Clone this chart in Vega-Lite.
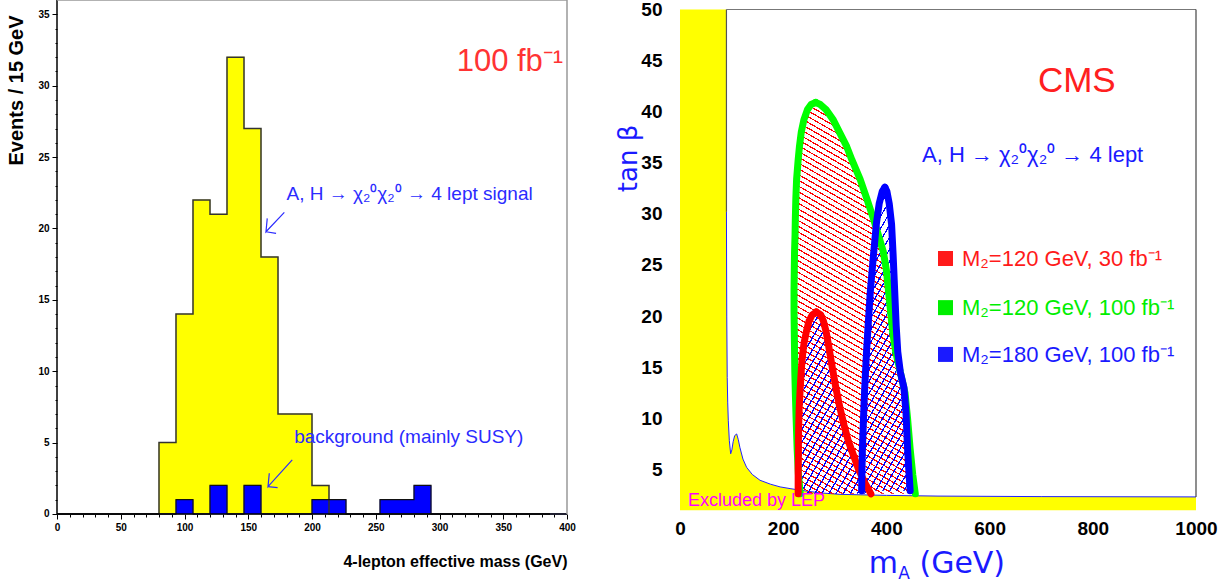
{
  "$schema": "https://vega.github.io/schema/vega-lite/v6.json",
  "width": 1231,
  "height": 584,
  "autosize": {"type": "none"},
  "padding": 0,
  "background": "white",
  "config": {"view": {"stroke": null}, "axis": {"grid": false}},
  "datasets": {
    "hist": [
      {"lo": 0, "hi": 13.333, "sig": 0, "bkg": 0},
      {"lo": 13.333, "hi": 26.667, "sig": 0, "bkg": 0},
      {"lo": 26.667, "hi": 40, "sig": 0, "bkg": 0},
      {"lo": 40, "hi": 53.333, "sig": 0, "bkg": 0},
      {"lo": 53.333, "hi": 66.667, "sig": 0, "bkg": 0},
      {"lo": 66.667, "hi": 80, "sig": 0, "bkg": 0},
      {"lo": 80, "hi": 93.333, "sig": 5, "bkg": 0},
      {"lo": 93.333, "hi": 106.667, "sig": 14, "bkg": 1},
      {"lo": 106.667, "hi": 120, "sig": 22, "bkg": 0},
      {"lo": 120, "hi": 133.333, "sig": 21, "bkg": 2},
      {"lo": 133.333, "hi": 146.667, "sig": 32, "bkg": 0},
      {"lo": 146.667, "hi": 160, "sig": 27, "bkg": 2},
      {"lo": 160, "hi": 173.333, "sig": 18, "bkg": 0},
      {"lo": 173.333, "hi": 186.667, "sig": 7, "bkg": 0},
      {"lo": 186.667, "hi": 200, "sig": 7, "bkg": 0},
      {"lo": 200, "hi": 213.333, "sig": 2, "bkg": 1},
      {"lo": 213.333, "hi": 226.667, "sig": 0, "bkg": 1},
      {"lo": 226.667, "hi": 240, "sig": 0, "bkg": 0},
      {"lo": 240, "hi": 253.333, "sig": 0, "bkg": 0},
      {"lo": 253.333, "hi": 266.667, "sig": 0, "bkg": 1},
      {"lo": 266.667, "hi": 280, "sig": 0, "bkg": 1},
      {"lo": 280, "hi": 293.333, "sig": 0, "bkg": 2},
      {"lo": 293.333, "hi": 306.667, "sig": 0, "bkg": 0},
      {"lo": 306.667, "hi": 320, "sig": 0, "bkg": 0},
      {"lo": 320, "hi": 333.333, "sig": 0, "bkg": 0},
      {"lo": 333.333, "hi": 346.667, "sig": 0, "bkg": 0},
      {"lo": 346.667, "hi": 360, "sig": 0, "bkg": 0},
      {"lo": 360, "hi": 373.333, "sig": 0, "bkg": 0},
      {"lo": 373.333, "hi": 386.667, "sig": 0, "bkg": 0},
      {"lo": 386.667, "hi": 400, "sig": 0, "bkg": 0}
    ],
    "lep": [
      {"m": 0, "t": 50}, {"m": 89.9, "t": 50}, {"m": 90, "t": 30.2}, {"m": 90.6, "t": 20},
      {"m": 91.5, "t": 14}, {"m": 92.5, "t": 11.5}, {"m": 93.6, "t": 9.75}, {"m": 95.6, "t": 7.8},
      {"m": 98.2, "t": 6.52}, {"m": 100.5, "t": 6.9}, {"m": 103, "t": 7.7}, {"m": 106, "t": 8.3},
      {"m": 109.8, "t": 8.46}, {"m": 113, "t": 7.9}, {"m": 116, "t": 7.16}, {"m": 122, "t": 6.0},
      {"m": 129, "t": 5.2}, {"m": 140, "t": 4.5}, {"m": 155, "t": 3.93}, {"m": 175, "t": 3.55},
      {"m": 194, "t": 3.28}, {"m": 215, "t": 3.1}, {"m": 232.6, "t": 2.96}, {"m": 270, "t": 2.7},
      {"m": 310, "t": 2.55}, {"m": 400, "t": 2.45}, {"m": 500, "t": 2.38}, {"m": 700, "t": 2.33},
      {"m": 1000, "t": 2.3}
    ],
    "green": [
      {"t": 2.6, "xl": 233, "xr": 456}, {"t": 4.5, "xl": 229.5, "xr": 451}, {"t": 7, "xl": 227, "xr": 446},
      {"t": 10, "xl": 225, "xr": 441}, {"t": 12.5, "xl": 223.5, "xr": 436}, {"t": 14.5, "xl": 222.5, "xr": 427},
      {"t": 16.5, "xl": 222, "xr": 418}, {"t": 18.5, "xl": 221.5, "xr": 412}, {"t": 20.5, "xl": 221, "xr": 408},
      {"t": 22.5, "xl": 221, "xr": 404}, {"t": 24.5, "xl": 221.5, "xr": 400}, {"t": 26.3, "xl": 222, "xr": 394},
      {"t": 28, "xl": 223, "xr": 384}, {"t": 29.5, "xl": 223.5, "xr": 375}, {"t": 31.5, "xl": 224.5, "xr": 362},
      {"t": 33.4, "xl": 226, "xr": 349}, {"t": 35.3, "xl": 229, "xr": 333}, {"t": 36.6, "xl": 231.5, "xr": 323},
      {"t": 38, "xl": 235, "xr": 309}, {"t": 39.2, "xl": 240, "xr": 297}, {"t": 40.2, "xl": 247, "xr": 283},
      {"t": 40.7, "xl": 254, "xr": 272}, {"t": 40.9, "xl": 263, "xr": 263}
    ],
    "red": [
      {"t": 2.6, "xl": 229, "xr": 370}, {"t": 3.8, "xl": 229, "xr": 357}, {"t": 5, "xl": 229, "xr": 346},
      {"t": 6.4, "xl": 229.5, "xr": 336}, {"t": 7.8, "xl": 229.5, "xr": 326}, {"t": 9.3, "xl": 230, "xr": 318},
      {"t": 11, "xl": 231, "xr": 310}, {"t": 13, "xl": 233, "xr": 302}, {"t": 15, "xl": 235.5, "xr": 295},
      {"t": 16.2, "xl": 237.5, "xr": 291}, {"t": 17.4, "xl": 240.5, "xr": 287}, {"t": 18.5, "xl": 245, "xr": 283},
      {"t": 19.5, "xl": 250, "xr": 278}, {"t": 20.1, "xl": 256, "xr": 273}, {"t": 20.4, "xl": 264, "xr": 264}
    ],
    "blue": [
      {"t": 2.9, "xl": 352, "xr": 446}, {"t": 4.5, "xl": 352.5, "xr": 444}, {"t": 7, "xl": 353.5, "xr": 441},
      {"t": 10.5, "xl": 356, "xr": 438}, {"t": 13, "xl": 358, "xr": 434}, {"t": 14.5, "xl": 359.5, "xr": 427},
      {"t": 16.5, "xl": 361.5, "xr": 422}, {"t": 19, "xl": 364.5, "xr": 419}, {"t": 22.5, "xl": 369, "xr": 416},
      {"t": 26, "xl": 375, "xr": 413}, {"t": 29, "xl": 380.5, "xr": 410}, {"t": 31, "xl": 386, "xr": 405.5},
      {"t": 32.2, "xl": 392, "xr": 401}, {"t": 32.6, "xl": 397, "xr": 397}
    ],
    "legend": [
      {"label": "M₂=120 GeV, 30 fb⁻¹", "key": "red", "m": 546.5, "t": 24.9, "bm": 514.5},
      {"label": "M₂=120 GeV, 100 fb⁻¹", "key": "green", "m": 546.5, "t": 20.09, "bm": 514.5},
      {"label": "M₂=180 GeV, 100 fb⁻¹", "key": "blue", "m": 546.5, "t": 15.51, "bm": 514.5}
    ]
  },
  "layer": [
    {
      "layer": [
        {
          "data": {"name": "hist"},
          "mark": {"type": "rect", "color": "#ffff00", "stroke": "#ffff00", "strokeWidth": 0.6},
          "encoding": {
            "x": {
              "field": "lo", "type": "quantitative",
              "scale": {"domain": [-44.706, 920.784], "nice": false, "zero": false},
              "axis": {
                "orient": "bottom", "offset": -70, "tickCount": 500, "format": "d",
                "values": [0,10,20,30,40,50,60,70,80,90,100,110,120,130,140,150,160,170,180,190,200,210,220,230,240,250,260,270,280,290,300,310,320,330,340,350,360,370,380,390,400],
                "domain": false, "grid": false, "tickColor": "#000", "tickWidth": 1,
                "tickSize": {"condition": {"test": "datum.value % 50 === 0", "value": 5}, "value": 3},
                "labelExpr": "datum.value % 50 === 0 ? datum.label : ''",
                "labelFont": "Liberation Sans", "labelFontSize": 10, "labelFontWeight": "bold",
                "labelColor": "#000", "labelPadding": 3, "labelOverlap": false, "labelFlush": false, "labelBound": false,
                "title": "4-lepton effective mass (GeV)", "titleFont": "Liberation Sans", "titleFontSize": 16,
                "titleFontWeight": "bold", "titleColor": "#000", "titleAlign": "right", "titleAnchor": "end",
                "titleX": 567, "titleY": 52, "titleBaseline": "alphabetic"
              }
            },
            "x2": {"field": "hi"},
            "y": {
              "field": "sig", "type": "quantitative",
              "scale": {"domain": [-4.903, 36.002], "nice": false, "zero": false},
              "axis": {
                "orient": "left", "offset": -57, "tickCount": 500, "format": "d",
                "values": [0,1,2,3,4,5,6,7,8,9,10,11,12,13,14,15,16,17,18,19,20,21,22,23,24,25,26,27,28,29,30,31,32,33,34,35],
                "domain": false, "grid": false, "tickColor": "#000", "tickWidth": 1,
                "tickSize": {"condition": {"test": "datum.value % 5 === 0", "value": 5}, "value": 2},
                "labelExpr": "datum.value % 5 === 0 ? datum.label : ''",
                "labelFont": "Liberation Sans", "labelFontSize": 10, "labelFontWeight": "bold",
                "labelColor": "#000", "labelPadding": 3, "labelOverlap": false, "labelFlush": false, "labelBound": false,
                "title": "Events / 15 GeV", "titleFont": "Liberation Sans", "titleFontSize": 20, "titleFontWeight": "bold",
                "titleColor": "#000", "titleAngle": 270, "titleAlign": "left", "titleBaseline": "middle",
                "titleX": -41, "titleY": 165
              }
            },
            "y2": {"datum": 0}
          }
        },
        {
          "data": {"name": "hist"},
          "mark": {"type": "rect", "color": "#0000ff", "stroke": "#0000ff", "strokeWidth": 0.6},
          "encoding": {
            "x": {"field": "lo", "type": "quantitative"},
            "x2": {"field": "hi"},
            "y": {"field": "bkg", "type": "quantitative"},
            "y2": {"datum": 0}
          }
        },
        {
          "data": {"name": "hist"},
          "mark": {"type": "line", "interpolate": "step-after", "color": "#333333", "strokeWidth": 1.5},
          "encoding": {
            "x": {"field": "lo", "type": "quantitative"},
            "y": {"field": "sig", "type": "quantitative"}
          }
        },
        {
          "data": {"name": "hist"},
          "mark": {"type": "line", "interpolate": "step-after", "color": "#111111", "strokeWidth": 1.2},
          "encoding": {
            "x": {"field": "lo", "type": "quantitative"},
            "y": {"field": "bkg", "type": "quantitative"}
          }
        },
        {
          "data": {"values": [{}]},
          "mark": {"type": "rule", "color": "#000000", "strokeWidth": 1.5},
          "encoding": {"x": {"datum": 0}, "x2": {"datum": 400}, "y": {"datum": 0}}
        },
        {
          "data": {"values": [{}]},
          "mark": {"type": "rule", "color": "#000000", "strokeWidth": 1.5},
          "encoding": {"x": {"datum": 0}, "y": {"datum": 0}, "y2": {"datum": 36}}
        },
        {
          "data": {"values": [{}]},
          "mark": {"type": "rule", "color": "#999999", "strokeWidth": 1.5},
          "encoding": {"x": {"datum": 0}, "x2": {"datum": 400}, "y": {"datum": 36}}
        },
        {
          "data": {"values": [{}]},
          "mark": {"type": "rule", "color": "#999999", "strokeWidth": 1.5},
          "encoding": {"x": {"datum": 400}, "y": {"datum": 0}, "y2": {"datum": 36}}
        },
        {
          "data": {"values": [
            {"seg": "s1", "i": 0, "m": 178.3, "n": 21.13}, {"seg": "s1", "i": 1, "m": 163.9, "n": 19.77}, {"seg": "s1", "i": 2, "m": 164.9, "n": 20.71},
            {"seg": "s2", "i": 0, "m": 163.9, "n": 19.77}, {"seg": "s2", "i": 1, "m": 171.8, "n": 19.66},
            {"seg": "b1", "i": 0, "m": 184.5, "n": 3.79}, {"seg": "b1", "i": 1, "m": 165.5, "n": 1.92}, {"seg": "b1", "i": 2, "m": 166.5, "n": 2.85},
            {"seg": "b2", "i": 0, "m": 165.5, "n": 1.92}, {"seg": "b2", "i": 1, "m": 173, "n": 1.85}
          ]},
          "mark": {"type": "line", "color": "#2b2bff", "strokeWidth": 1.2},
          "encoding": {
            "x": {"field": "m", "type": "quantitative"},
            "y": {"field": "n", "type": "quantitative"},
            "detail": {"field": "seg"},
            "order": {"field": "i", "type": "quantitative"}
          }
        },
        {
          "data": {"values": [{"label": "100 fb⁻¹", "m": 397, "n": 31.0}]},
          "mark": {"type": "text", "align": "right", "baseline": "alphabetic", "font": "Liberation Sans", "fontSize": 31, "color": "#ff3333"},
          "encoding": {
            "x": {"field": "m", "type": "quantitative"},
            "y": {"field": "n", "type": "quantitative"},
            "text": {"field": "label"}
          }
        },
        {
          "data": {"values": [
            {"label": "A, H → χ₂⁰χ₂⁰ → 4 lept signal", "m": 180, "n": 22.0},
            {"label": "background (mainly SUSY)", "m": 186, "n": 4.95}
          ]},
          "mark": {"type": "text", "align": "left", "baseline": "alphabetic", "font": "Liberation Sans", "fontSize": 19, "color": "#2b2bff"},
          "encoding": {
            "x": {"field": "m", "type": "quantitative"},
            "y": {"field": "n", "type": "quantitative"},
            "text": {"field": "label"}
          }
        }
      ]
    },
    {
      "layer": [
        {
          "data": {"name": "lep"},
          "mark": {"type": "area", "color": "#ffff00"},
          "encoding": {
            "x": {
              "field": "m", "type": "quantitative",
              "scale": {"domain": [-1317.83, 1067.83], "nice": false, "zero": false},
              "axis": {
                "orient": "bottom", "offset": -73.8, "values": [0, 200, 400, 600, 800, 1000], "tickCount": 100, "format": "d",
                "domain": false, "ticks": false, "grid": false,
                "labelFont": "Liberation Sans", "labelFontSize": 19, "labelFontWeight": "bold", "labelColor": "#000",
                "labelBaseline": "middle", "labelPadding": 18, "labelOverlap": false, "labelFlush": false, "labelBound": false,
                "title": null
              }
            },
            "y": {
              "field": "t", "type": "quantitative",
              "scale": {"domain": [-6.223, 50.93], "nice": false, "zero": false},
              "axis": {
                "orient": "left", "offset": -680, "values": [5, 10, 15, 20, 25, 30, 35, 40, 45, 50], "tickCount": 100, "format": "d",
                "domain": false, "ticks": false, "grid": false,
                "labelFont": "Liberation Sans", "labelFontSize": 19, "labelFontWeight": "bold", "labelColor": "#000",
                "labelPadding": 18, "labelOverlap": false, "labelFlush": false, "labelBound": false,
                "title": "tan β", "titleFont": "DejaVu Sans", "titleFontSize": 26, "titleFontWeight": "normal",
                "titleColor": "#1a1aff", "titleAngle": 270, "titleAlign": "center", "titleBaseline": "middle",
                "titleX": -52, "titleY": 158
              }
            },
            "y2": {"datum": 1}
          }
        },
        {
          "data": {"name": "lep"},
          "transform": [{"filter": "datum.m >= 90"}],
          "mark": {"type": "line", "color": "#2222ff", "strokeWidth": 1},
          "encoding": {
            "x": {"field": "m", "type": "quantitative"},
            "y": {"field": "t", "type": "quantitative"}
          }
        },
        {
          "data": {"values": [{}]},
          "mark": {"type": "rule", "color": "#777777", "strokeWidth": 1.2},
          "encoding": {"x": {"datum": 90}, "x2": {"datum": 1000}, "y": {"datum": 50}}
        },
        {
          "data": {"values": [{}]},
          "mark": {"type": "rule", "color": "#444444", "strokeWidth": 1.2},
          "encoding": {"x": {"datum": 1000}, "y": {"datum": 2.3}, "y2": {"datum": 50}}
        },
        {
          "data": {"values": [{}]},
          "mark": {"type": "rule", "color": "#555555", "strokeWidth": 1.2},
          "encoding": {"x": {"datum": 90}, "y": {"datum": 30.2}, "y2": {"datum": 50}}
        },
        {
          "data": {"name": "green"},
          "mark": {
            "type": "area", "orient": "horizontal",
            "fill": {
              "gradient": "linear", "x1": 1, "y1": 0, "x2": 0.7974, "y2": 1.1417,
              "stops": [
{"offset":0,"color":"red"},{"offset":0.003,"color":"red"},{"offset":0.003,"color":"#0000"},{"offset":0.0125,"color":"#0000"},
{"offset":0.0125,"color":"red"},{"offset":0.0155,"color":"red"},{"offset":0.0155,"color":"#0000"},{"offset":0.025,"color":"#0000"},
{"offset":0.025,"color":"red"},{"offset":0.028,"color":"red"},{"offset":0.028,"color":"#0000"},{"offset":0.0375,"color":"#0000"},
{"offset":0.0375,"color":"red"},{"offset":0.0405,"color":"red"},{"offset":0.0405,"color":"#0000"},{"offset":0.05,"color":"#0000"},
{"offset":0.05,"color":"red"},{"offset":0.053,"color":"red"},{"offset":0.053,"color":"#0000"},{"offset":0.0625,"color":"#0000"},
{"offset":0.0625,"color":"red"},{"offset":0.0655,"color":"red"},{"offset":0.0655,"color":"#0000"},{"offset":0.075,"color":"#0000"},
{"offset":0.075,"color":"red"},{"offset":0.078,"color":"red"},{"offset":0.078,"color":"#0000"},{"offset":0.0875,"color":"#0000"},
{"offset":0.0875,"color":"red"},{"offset":0.0905,"color":"red"},{"offset":0.0905,"color":"#0000"},{"offset":0.1,"color":"#0000"},
{"offset":0.1,"color":"red"},{"offset":0.103,"color":"red"},{"offset":0.103,"color":"#0000"},{"offset":0.1125,"color":"#0000"},
{"offset":0.1125,"color":"red"},{"offset":0.1155,"color":"red"},{"offset":0.1155,"color":"#0000"},{"offset":0.125,"color":"#0000"},
{"offset":0.125,"color":"red"},{"offset":0.128,"color":"red"},{"offset":0.128,"color":"#0000"},{"offset":0.1375,"color":"#0000"},
{"offset":0.1375,"color":"red"},{"offset":0.1405,"color":"red"},{"offset":0.1405,"color":"#0000"},{"offset":0.15,"color":"#0000"},
{"offset":0.15,"color":"red"},{"offset":0.153,"color":"red"},{"offset":0.153,"color":"#0000"},{"offset":0.1625,"color":"#0000"},
{"offset":0.1625,"color":"red"},{"offset":0.1655,"color":"red"},{"offset":0.1655,"color":"#0000"},{"offset":0.175,"color":"#0000"},
{"offset":0.175,"color":"red"},{"offset":0.178,"color":"red"},{"offset":0.178,"color":"#0000"},{"offset":0.1875,"color":"#0000"},
{"offset":0.1875,"color":"red"},{"offset":0.1905,"color":"red"},{"offset":0.1905,"color":"#0000"},{"offset":0.2,"color":"#0000"},
{"offset":0.2,"color":"red"},{"offset":0.203,"color":"red"},{"offset":0.203,"color":"#0000"},{"offset":0.2125,"color":"#0000"},
{"offset":0.2125,"color":"red"},{"offset":0.2155,"color":"red"},{"offset":0.2155,"color":"#0000"},{"offset":0.225,"color":"#0000"},
{"offset":0.225,"color":"red"},{"offset":0.228,"color":"red"},{"offset":0.228,"color":"#0000"},{"offset":0.2375,"color":"#0000"},
{"offset":0.2375,"color":"red"},{"offset":0.2405,"color":"red"},{"offset":0.2405,"color":"#0000"},{"offset":0.25,"color":"#0000"},
{"offset":0.25,"color":"red"},{"offset":0.253,"color":"red"},{"offset":0.253,"color":"#0000"},{"offset":0.2625,"color":"#0000"},
{"offset":0.2625,"color":"red"},{"offset":0.2655,"color":"red"},{"offset":0.2655,"color":"#0000"},{"offset":0.275,"color":"#0000"},
{"offset":0.275,"color":"red"},{"offset":0.278,"color":"red"},{"offset":0.278,"color":"#0000"},{"offset":0.2875,"color":"#0000"},
{"offset":0.2875,"color":"red"},{"offset":0.2905,"color":"red"},{"offset":0.2905,"color":"#0000"},{"offset":0.3,"color":"#0000"},
{"offset":0.3,"color":"red"},{"offset":0.303,"color":"red"},{"offset":0.303,"color":"#0000"},{"offset":0.3125,"color":"#0000"},
{"offset":0.3125,"color":"red"},{"offset":0.3155,"color":"red"},{"offset":0.3155,"color":"#0000"},{"offset":0.325,"color":"#0000"},
{"offset":0.325,"color":"red"},{"offset":0.328,"color":"red"},{"offset":0.328,"color":"#0000"},{"offset":0.3375,"color":"#0000"},
{"offset":0.3375,"color":"red"},{"offset":0.3405,"color":"red"},{"offset":0.3405,"color":"#0000"},{"offset":0.35,"color":"#0000"},
{"offset":0.35,"color":"red"},{"offset":0.353,"color":"red"},{"offset":0.353,"color":"#0000"},{"offset":0.3625,"color":"#0000"},
{"offset":0.3625,"color":"red"},{"offset":0.3655,"color":"red"},{"offset":0.3655,"color":"#0000"},{"offset":0.375,"color":"#0000"},
{"offset":0.375,"color":"red"},{"offset":0.378,"color":"red"},{"offset":0.378,"color":"#0000"},{"offset":0.3875,"color":"#0000"},
{"offset":0.3875,"color":"red"},{"offset":0.3905,"color":"red"},{"offset":0.3905,"color":"#0000"},{"offset":0.4,"color":"#0000"},
{"offset":0.4,"color":"red"},{"offset":0.403,"color":"red"},{"offset":0.403,"color":"#0000"},{"offset":0.4125,"color":"#0000"},
{"offset":0.4125,"color":"red"},{"offset":0.4155,"color":"red"},{"offset":0.4155,"color":"#0000"},{"offset":0.425,"color":"#0000"},
{"offset":0.425,"color":"red"},{"offset":0.428,"color":"red"},{"offset":0.428,"color":"#0000"},{"offset":0.4375,"color":"#0000"},
{"offset":0.4375,"color":"red"},{"offset":0.4405,"color":"red"},{"offset":0.4405,"color":"#0000"},{"offset":0.45,"color":"#0000"},
{"offset":0.45,"color":"red"},{"offset":0.453,"color":"red"},{"offset":0.453,"color":"#0000"},{"offset":0.4625,"color":"#0000"},
{"offset":0.4625,"color":"red"},{"offset":0.4655,"color":"red"},{"offset":0.4655,"color":"#0000"},{"offset":0.475,"color":"#0000"},
{"offset":0.475,"color":"red"},{"offset":0.478,"color":"red"},{"offset":0.478,"color":"#0000"},{"offset":0.4875,"color":"#0000"},
{"offset":0.4875,"color":"red"},{"offset":0.4905,"color":"red"},{"offset":0.4905,"color":"#0000"},{"offset":0.5,"color":"#0000"},
{"offset":0.5,"color":"red"},{"offset":0.503,"color":"red"},{"offset":0.503,"color":"#0000"},{"offset":0.5125,"color":"#0000"},
{"offset":0.5125,"color":"red"},{"offset":0.5155,"color":"red"},{"offset":0.5155,"color":"#0000"},{"offset":0.525,"color":"#0000"},
{"offset":0.525,"color":"red"},{"offset":0.528,"color":"red"},{"offset":0.528,"color":"#0000"},{"offset":0.5375,"color":"#0000"},
{"offset":0.5375,"color":"red"},{"offset":0.5405,"color":"red"},{"offset":0.5405,"color":"#0000"},{"offset":0.55,"color":"#0000"},
{"offset":0.55,"color":"red"},{"offset":0.553,"color":"red"},{"offset":0.553,"color":"#0000"},{"offset":0.5625,"color":"#0000"},
{"offset":0.5625,"color":"red"},{"offset":0.5655,"color":"red"},{"offset":0.5655,"color":"#0000"},{"offset":0.575,"color":"#0000"},
{"offset":0.575,"color":"red"},{"offset":0.578,"color":"red"},{"offset":0.578,"color":"#0000"},{"offset":0.5875,"color":"#0000"},
{"offset":0.5875,"color":"red"},{"offset":0.5905,"color":"red"},{"offset":0.5905,"color":"#0000"},{"offset":0.6,"color":"#0000"},
{"offset":0.6,"color":"red"},{"offset":0.603,"color":"red"},{"offset":0.603,"color":"#0000"},{"offset":0.6125,"color":"#0000"},
{"offset":0.6125,"color":"red"},{"offset":0.6155,"color":"red"},{"offset":0.6155,"color":"#0000"},{"offset":0.625,"color":"#0000"},
{"offset":0.625,"color":"red"},{"offset":0.628,"color":"red"},{"offset":0.628,"color":"#0000"},{"offset":0.6375,"color":"#0000"},
{"offset":0.6375,"color":"red"},{"offset":0.6405,"color":"red"},{"offset":0.6405,"color":"#0000"},{"offset":0.65,"color":"#0000"},
{"offset":0.65,"color":"red"},{"offset":0.653,"color":"red"},{"offset":0.653,"color":"#0000"},{"offset":0.6625,"color":"#0000"},
{"offset":0.6625,"color":"red"},{"offset":0.6655,"color":"red"},{"offset":0.6655,"color":"#0000"},{"offset":0.675,"color":"#0000"},
{"offset":0.675,"color":"red"},{"offset":0.678,"color":"red"},{"offset":0.678,"color":"#0000"},{"offset":0.6875,"color":"#0000"},
{"offset":0.6875,"color":"red"},{"offset":0.6905,"color":"red"},{"offset":0.6905,"color":"#0000"},{"offset":0.7,"color":"#0000"},
{"offset":0.7,"color":"red"},{"offset":0.703,"color":"red"},{"offset":0.703,"color":"#0000"},{"offset":0.7125,"color":"#0000"},
{"offset":0.7125,"color":"red"},{"offset":0.7155,"color":"red"},{"offset":0.7155,"color":"#0000"},{"offset":0.725,"color":"#0000"},
{"offset":0.725,"color":"red"},{"offset":0.728,"color":"red"},{"offset":0.728,"color":"#0000"},{"offset":0.7375,"color":"#0000"},
{"offset":0.7375,"color":"red"},{"offset":0.7405,"color":"red"},{"offset":0.7405,"color":"#0000"},{"offset":0.75,"color":"#0000"},
{"offset":0.75,"color":"red"},{"offset":0.753,"color":"red"},{"offset":0.753,"color":"#0000"},{"offset":0.7625,"color":"#0000"},
{"offset":0.7625,"color":"red"},{"offset":0.7655,"color":"red"},{"offset":0.7655,"color":"#0000"},{"offset":0.775,"color":"#0000"},
{"offset":0.775,"color":"red"},{"offset":0.778,"color":"red"},{"offset":0.778,"color":"#0000"},{"offset":0.7875,"color":"#0000"},
{"offset":0.7875,"color":"red"},{"offset":0.7905,"color":"red"},{"offset":0.7905,"color":"#0000"},{"offset":0.8,"color":"#0000"},
{"offset":0.8,"color":"red"},{"offset":0.803,"color":"red"},{"offset":0.803,"color":"#0000"},{"offset":0.8125,"color":"#0000"},
{"offset":0.8125,"color":"red"},{"offset":0.8155,"color":"red"},{"offset":0.8155,"color":"#0000"},{"offset":0.825,"color":"#0000"},
{"offset":0.825,"color":"red"},{"offset":0.828,"color":"red"},{"offset":0.828,"color":"#0000"},{"offset":0.8375,"color":"#0000"},
{"offset":0.8375,"color":"red"},{"offset":0.8405,"color":"red"},{"offset":0.8405,"color":"#0000"},{"offset":0.85,"color":"#0000"},
{"offset":0.85,"color":"red"},{"offset":0.853,"color":"red"},{"offset":0.853,"color":"#0000"},{"offset":0.8625,"color":"#0000"},
{"offset":0.8625,"color":"red"},{"offset":0.8655,"color":"red"},{"offset":0.8655,"color":"#0000"},{"offset":0.875,"color":"#0000"},
{"offset":0.875,"color":"red"},{"offset":0.878,"color":"red"},{"offset":0.878,"color":"#0000"},{"offset":0.8875,"color":"#0000"},
{"offset":0.8875,"color":"red"},{"offset":0.8905,"color":"red"},{"offset":0.8905,"color":"#0000"},{"offset":0.9,"color":"#0000"},
{"offset":0.9,"color":"red"},{"offset":0.903,"color":"red"},{"offset":0.903,"color":"#0000"},{"offset":0.9125,"color":"#0000"},
{"offset":0.9125,"color":"red"},{"offset":0.9155,"color":"red"},{"offset":0.9155,"color":"#0000"},{"offset":0.925,"color":"#0000"},
{"offset":0.925,"color":"red"},{"offset":0.928,"color":"red"},{"offset":0.928,"color":"#0000"},{"offset":0.9375,"color":"#0000"},
{"offset":0.9375,"color":"red"},{"offset":0.9405,"color":"red"},{"offset":0.9405,"color":"#0000"},{"offset":0.95,"color":"#0000"},
{"offset":0.95,"color":"red"},{"offset":0.953,"color":"red"},{"offset":0.953,"color":"#0000"},{"offset":0.9625,"color":"#0000"},
{"offset":0.9625,"color":"red"},{"offset":0.9655,"color":"red"},{"offset":0.9655,"color":"#0000"},{"offset":0.975,"color":"#0000"},
{"offset":0.975,"color":"red"},{"offset":0.978,"color":"red"},{"offset":0.978,"color":"#0000"},{"offset":0.9875,"color":"#0000"},
{"offset":0.9875,"color":"red"},{"offset":0.9905,"color":"red"},{"offset":0.9905,"color":"#0000"},{"offset":1,"color":"#0000"}
              ]
            }
          },
          "encoding": {
            "y": {"field": "t", "type": "quantitative"},
            "x": {"field": "xl", "type": "quantitative"},
            "x2": {"field": "xr"}
          }
        },
        {
          "data": {"name": "red"},
          "mark": {
            "type": "area", "orient": "horizontal",
            "fill": {
              "gradient": "linear", "x1": 0, "y1": 0, "x2": 0.7875, "y2": 1.1461,
              "stops": [
{"offset":0,"color":"blue"},{"offset":0.008,"color":"blue"},{"offset":0.008,"color":"#0000"},{"offset":0.04,"color":"#0000"},
{"offset":0.04,"color":"blue"},{"offset":0.048,"color":"blue"},{"offset":0.048,"color":"#0000"},{"offset":0.08,"color":"#0000"},
{"offset":0.08,"color":"blue"},{"offset":0.088,"color":"blue"},{"offset":0.088,"color":"#0000"},{"offset":0.12,"color":"#0000"},
{"offset":0.12,"color":"blue"},{"offset":0.128,"color":"blue"},{"offset":0.128,"color":"#0000"},{"offset":0.16,"color":"#0000"},
{"offset":0.16,"color":"blue"},{"offset":0.168,"color":"blue"},{"offset":0.168,"color":"#0000"},{"offset":0.2,"color":"#0000"},
{"offset":0.2,"color":"blue"},{"offset":0.208,"color":"blue"},{"offset":0.208,"color":"#0000"},{"offset":0.24,"color":"#0000"},
{"offset":0.24,"color":"blue"},{"offset":0.248,"color":"blue"},{"offset":0.248,"color":"#0000"},{"offset":0.28,"color":"#0000"},
{"offset":0.28,"color":"blue"},{"offset":0.288,"color":"blue"},{"offset":0.288,"color":"#0000"},{"offset":0.32,"color":"#0000"},
{"offset":0.32,"color":"blue"},{"offset":0.328,"color":"blue"},{"offset":0.328,"color":"#0000"},{"offset":0.36,"color":"#0000"},
{"offset":0.36,"color":"blue"},{"offset":0.368,"color":"blue"},{"offset":0.368,"color":"#0000"},{"offset":0.4,"color":"#0000"},
{"offset":0.4,"color":"blue"},{"offset":0.408,"color":"blue"},{"offset":0.408,"color":"#0000"},{"offset":0.44,"color":"#0000"},
{"offset":0.44,"color":"blue"},{"offset":0.448,"color":"blue"},{"offset":0.448,"color":"#0000"},{"offset":0.48,"color":"#0000"},
{"offset":0.48,"color":"blue"},{"offset":0.488,"color":"blue"},{"offset":0.488,"color":"#0000"},{"offset":0.52,"color":"#0000"},
{"offset":0.52,"color":"blue"},{"offset":0.528,"color":"blue"},{"offset":0.528,"color":"#0000"},{"offset":0.56,"color":"#0000"},
{"offset":0.56,"color":"blue"},{"offset":0.568,"color":"blue"},{"offset":0.568,"color":"#0000"},{"offset":0.6,"color":"#0000"},
{"offset":0.6,"color":"blue"},{"offset":0.608,"color":"blue"},{"offset":0.608,"color":"#0000"},{"offset":0.64,"color":"#0000"},
{"offset":0.64,"color":"blue"},{"offset":0.648,"color":"blue"},{"offset":0.648,"color":"#0000"},{"offset":0.68,"color":"#0000"},
{"offset":0.68,"color":"blue"},{"offset":0.688,"color":"blue"},{"offset":0.688,"color":"#0000"},{"offset":0.72,"color":"#0000"},
{"offset":0.72,"color":"blue"},{"offset":0.728,"color":"blue"},{"offset":0.728,"color":"#0000"},{"offset":0.76,"color":"#0000"},
{"offset":0.76,"color":"blue"},{"offset":0.768,"color":"blue"},{"offset":0.768,"color":"#0000"},{"offset":0.8,"color":"#0000"},
{"offset":0.8,"color":"blue"},{"offset":0.808,"color":"blue"},{"offset":0.808,"color":"#0000"},{"offset":0.84,"color":"#0000"},
{"offset":0.84,"color":"blue"},{"offset":0.848,"color":"blue"},{"offset":0.848,"color":"#0000"},{"offset":0.88,"color":"#0000"},
{"offset":0.88,"color":"blue"},{"offset":0.888,"color":"blue"},{"offset":0.888,"color":"#0000"},{"offset":0.92,"color":"#0000"},
{"offset":0.92,"color":"blue"},{"offset":0.928,"color":"blue"},{"offset":0.928,"color":"#0000"},{"offset":0.96,"color":"#0000"},
{"offset":0.96,"color":"blue"},{"offset":0.968,"color":"blue"},{"offset":0.968,"color":"#0000"},{"offset":1,"color":"#0000"}
              ]
            }
          },
          "encoding": {
            "y": {"field": "t", "type": "quantitative"},
            "x": {"field": "xl", "type": "quantitative"},
            "x2": {"field": "xr"}
          }
        },
        {
          "data": {"name": "blue"},
          "mark": {
            "type": "area", "orient": "horizontal",
            "fill": {
              "gradient": "linear", "x1": 0, "y1": 0, "x2": 0.3254, "y2": 1.1852,
              "stops": [
{"offset":0,"color":"blue"},{"offset":0.006,"color":"blue"},{"offset":0.006,"color":"#0000"},{"offset":0.03125,"color":"#0000"},
{"offset":0.03125,"color":"blue"},{"offset":0.03725,"color":"blue"},{"offset":0.03725,"color":"#0000"},{"offset":0.0625,"color":"#0000"},
{"offset":0.0625,"color":"blue"},{"offset":0.0685,"color":"blue"},{"offset":0.0685,"color":"#0000"},{"offset":0.09375,"color":"#0000"},
{"offset":0.09375,"color":"blue"},{"offset":0.09975,"color":"blue"},{"offset":0.09975,"color":"#0000"},{"offset":0.125,"color":"#0000"},
{"offset":0.125,"color":"blue"},{"offset":0.131,"color":"blue"},{"offset":0.131,"color":"#0000"},{"offset":0.15625,"color":"#0000"},
{"offset":0.15625,"color":"blue"},{"offset":0.16225,"color":"blue"},{"offset":0.16225,"color":"#0000"},{"offset":0.1875,"color":"#0000"},
{"offset":0.1875,"color":"blue"},{"offset":0.1935,"color":"blue"},{"offset":0.1935,"color":"#0000"},{"offset":0.21875,"color":"#0000"},
{"offset":0.21875,"color":"blue"},{"offset":0.22475,"color":"blue"},{"offset":0.22475,"color":"#0000"},{"offset":0.25,"color":"#0000"},
{"offset":0.25,"color":"blue"},{"offset":0.256,"color":"blue"},{"offset":0.256,"color":"#0000"},{"offset":0.28125,"color":"#0000"},
{"offset":0.28125,"color":"blue"},{"offset":0.28725,"color":"blue"},{"offset":0.28725,"color":"#0000"},{"offset":0.3125,"color":"#0000"},
{"offset":0.3125,"color":"blue"},{"offset":0.3185,"color":"blue"},{"offset":0.3185,"color":"#0000"},{"offset":0.34375,"color":"#0000"},
{"offset":0.34375,"color":"blue"},{"offset":0.34975,"color":"blue"},{"offset":0.34975,"color":"#0000"},{"offset":0.375,"color":"#0000"},
{"offset":0.375,"color":"blue"},{"offset":0.381,"color":"blue"},{"offset":0.381,"color":"#0000"},{"offset":0.40625,"color":"#0000"},
{"offset":0.40625,"color":"blue"},{"offset":0.41225,"color":"blue"},{"offset":0.41225,"color":"#0000"},{"offset":0.4375,"color":"#0000"},
{"offset":0.4375,"color":"blue"},{"offset":0.4435,"color":"blue"},{"offset":0.4435,"color":"#0000"},{"offset":0.46875,"color":"#0000"},
{"offset":0.46875,"color":"blue"},{"offset":0.47475,"color":"blue"},{"offset":0.47475,"color":"#0000"},{"offset":0.5,"color":"#0000"},
{"offset":0.5,"color":"blue"},{"offset":0.506,"color":"blue"},{"offset":0.506,"color":"#0000"},{"offset":0.53125,"color":"#0000"},
{"offset":0.53125,"color":"blue"},{"offset":0.53725,"color":"blue"},{"offset":0.53725,"color":"#0000"},{"offset":0.5625,"color":"#0000"},
{"offset":0.5625,"color":"blue"},{"offset":0.5685,"color":"blue"},{"offset":0.5685,"color":"#0000"},{"offset":0.59375,"color":"#0000"},
{"offset":0.59375,"color":"blue"},{"offset":0.59975,"color":"blue"},{"offset":0.59975,"color":"#0000"},{"offset":0.625,"color":"#0000"},
{"offset":0.625,"color":"blue"},{"offset":0.631,"color":"blue"},{"offset":0.631,"color":"#0000"},{"offset":0.65625,"color":"#0000"},
{"offset":0.65625,"color":"blue"},{"offset":0.66225,"color":"blue"},{"offset":0.66225,"color":"#0000"},{"offset":0.6875,"color":"#0000"},
{"offset":0.6875,"color":"blue"},{"offset":0.6935,"color":"blue"},{"offset":0.6935,"color":"#0000"},{"offset":0.71875,"color":"#0000"},
{"offset":0.71875,"color":"blue"},{"offset":0.72475,"color":"blue"},{"offset":0.72475,"color":"#0000"},{"offset":0.75,"color":"#0000"},
{"offset":0.75,"color":"blue"},{"offset":0.756,"color":"blue"},{"offset":0.756,"color":"#0000"},{"offset":0.78125,"color":"#0000"},
{"offset":0.78125,"color":"blue"},{"offset":0.78725,"color":"blue"},{"offset":0.78725,"color":"#0000"},{"offset":0.8125,"color":"#0000"},
{"offset":0.8125,"color":"blue"},{"offset":0.8185,"color":"blue"},{"offset":0.8185,"color":"#0000"},{"offset":0.84375,"color":"#0000"},
{"offset":0.84375,"color":"blue"},{"offset":0.84975,"color":"blue"},{"offset":0.84975,"color":"#0000"},{"offset":0.875,"color":"#0000"},
{"offset":0.875,"color":"blue"},{"offset":0.881,"color":"blue"},{"offset":0.881,"color":"#0000"},{"offset":0.90625,"color":"#0000"},
{"offset":0.90625,"color":"blue"},{"offset":0.91225,"color":"blue"},{"offset":0.91225,"color":"#0000"},{"offset":0.9375,"color":"#0000"},
{"offset":0.9375,"color":"blue"},{"offset":0.9435,"color":"blue"},{"offset":0.9435,"color":"#0000"},{"offset":0.96875,"color":"#0000"},
{"offset":0.96875,"color":"blue"},{"offset":0.97475,"color":"blue"},{"offset":0.97475,"color":"#0000"},{"offset":1,"color":"#0000"}
              ]
            }
          },
          "encoding": {
            "y": {"field": "t", "type": "quantitative"},
            "x": {"field": "xl", "type": "quantitative"},
            "x2": {"field": "xr"}
          }
        },
        {
          "data": {"name": "green"},
          "transform": [{"fold": ["xl", "xr"], "as": ["side", "x"]}],
          "mark": {"type": "line", "color": "#00ff00", "strokeWidth": 7, "strokeCap": "round", "strokeJoin": "round"},
          "encoding": {
            "x": {"field": "x", "type": "quantitative"},
            "y": {"field": "t", "type": "quantitative"},
            "detail": {"field": "side"},
            "order": {"field": "t", "type": "quantitative"}
          }
        },
        {
          "data": {"name": "red"},
          "transform": [{"fold": ["xl", "xr"], "as": ["side", "x"]}],
          "mark": {"type": "line", "color": "#ff0000", "strokeWidth": 7, "strokeCap": "round", "strokeJoin": "round"},
          "encoding": {
            "x": {"field": "x", "type": "quantitative"},
            "y": {"field": "t", "type": "quantitative"},
            "detail": {"field": "side"},
            "order": {"field": "t", "type": "quantitative"}
          }
        },
        {
          "data": {"name": "blue"},
          "transform": [{"fold": ["xl", "xr"], "as": ["side", "x"]}],
          "mark": {"type": "line", "color": "#0000ff", "strokeWidth": 7, "strokeCap": "round", "strokeJoin": "round"},
          "encoding": {
            "x": {"field": "x", "type": "quantitative"},
            "y": {"field": "t", "type": "quantitative"},
            "detail": {"field": "side"},
            "order": {"field": "t", "type": "quantitative"}
          }
        },
        {
          "data": {"values": [{"label": "CMS", "m": 769, "t": 41.95}]},
          "mark": {"type": "text", "align": "center", "baseline": "alphabetic", "font": "Liberation Sans", "fontSize": 35, "color": "#ff2020"},
          "encoding": {
            "x": {"field": "m", "type": "quantitative"},
            "y": {"field": "t", "type": "quantitative"},
            "text": {"field": "label"}
          }
        },
        {
          "data": {"values": [{"label": "A, H → χ₂⁰χ₂⁰ → 4 lept", "m": 469, "t": 35.05}]},
          "mark": {"type": "text", "align": "left", "baseline": "alphabetic", "font": "Liberation Sans", "fontSize": 22, "color": "#1a1aff"},
          "encoding": {
            "x": {"field": "m", "type": "quantitative"},
            "y": {"field": "t", "type": "quantitative"},
            "text": {"field": "label"}
          }
        },
        {
          "data": {"name": "legend"},
          "mark": {"type": "text", "align": "left", "baseline": "alphabetic", "font": "Liberation Sans", "fontSize": 22},
          "encoding": {
            "x": {"field": "m", "type": "quantitative"},
            "y": {"field": "t", "type": "quantitative"},
            "text": {"field": "label"},
            "color": {"field": "key", "type": "nominal", "scale": {"domain": ["red", "green", "blue"], "range": ["#ff1a1a", "#00ee00", "#1a1aff"]}, "legend": null}
          }
        },
        {
          "data": {"name": "legend"},
          "mark": {"type": "point", "shape": "square", "size": 225, "filled": true, "opacity": 1, "yOffset": -7.5},
          "encoding": {
            "x": {"field": "bm", "type": "quantitative"},
            "y": {"field": "t", "type": "quantitative"},
            "color": {"field": "key", "type": "nominal", "scale": {"domain": ["red", "green", "blue"], "range": ["#ff1a1a", "#00ee00", "#1a1aff"]}, "legend": null}
          }
        },
        {
          "data": {"values": [{"label": "Excluded by LEP", "m": 15.5, "t": 1.41}]},
          "mark": {"type": "text", "align": "left", "baseline": "alphabetic", "font": "Liberation Sans", "fontSize": 18, "color": "#ff00ff"},
          "encoding": {
            "x": {"field": "m", "type": "quantitative"},
            "y": {"field": "t", "type": "quantitative"},
            "text": {"field": "label"}
          }
        },
        {
          "data": {"values": [{"label": "m", "m": 366, "t": -5.1}, {"label": "(GeV)", "m": 464, "t": -5.1}]},
          "mark": {"type": "text", "align": "left", "baseline": "alphabetic", "font": "DejaVu Sans", "fontSize": 30, "color": "#1a1aff"},
          "encoding": {
            "x": {"field": "m", "type": "quantitative"},
            "y": {"field": "t", "type": "quantitative"},
            "text": {"field": "label"}
          }
        },
        {
          "data": {"values": [{"label": "A", "m": 423, "t": -5.7}]},
          "mark": {"type": "text", "align": "left", "baseline": "alphabetic", "font": "DejaVu Sans", "fontSize": 17, "color": "#1a1aff"},
          "encoding": {
            "x": {"field": "m", "type": "quantitative"},
            "y": {"field": "t", "type": "quantitative"},
            "text": {"field": "label"}
          }
        }
      ]
    }
  ],
  "resolve": {
    "scale": {"x": "independent", "y": "independent", "color": "independent"},
    "axis": {"x": "independent", "y": "independent"}
  }
}
